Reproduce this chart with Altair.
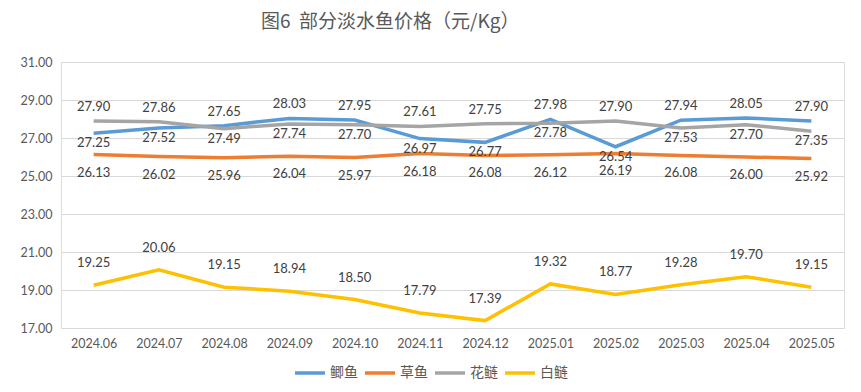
import altair as alt
import pandas as pd

months = ["2024.06", "2024.07", "2024.08", "2024.09", "2024.10", "2024.11",
          "2024.12", "2025.01", "2025.02", "2025.03", "2025.04", "2025.05"]
series_names = ["鲫鱼", "草鱼", "花鲢", "白鲢"]
crucian = [27.25, 27.52, 27.65, 28.03, 27.95, 26.97, 26.77, 27.98, 26.54, 27.94, 28.05, 27.90]
grass = [26.13, 26.02, 25.96, 26.04, 25.97, 26.18, 26.08, 26.12, 26.19, 26.08, 26.00, 25.92]
bighead = [27.90, 27.86, 27.49, 27.74, 27.70, 27.61, 27.75, 27.78, 27.90, 27.53, 27.70, 27.35]
silver = [19.25, 20.06, 19.15, 18.94, 18.50, 17.79, 17.39, 19.32, 18.77, 19.28, 19.70, 19.15]
colors = ["#5B9BD5", "#ED7D31", "#A5A5A5", "#FFC000"]
y_ticks = [17, 19, 21, 23, 25, 27, 29, 31]

rows = []
for name, vals in zip(series_names, [crucian, grass, bighead, silver]):
    for m, v in zip(months, vals):
        rows.append({"month": m, "series": name, "value": v})
df = pd.DataFrame(rows)

LBL = "Lato"
CJK = "Noto Sans CJK SC"

x = alt.X("month:N", sort=months, title=None,
          scale=alt.Scale(type="point", padding=0.5),
          axis=alt.Axis(labelAngle=0, labelFont=LBL, labelFontSize=12.5, labelColor="#595959",
                        ticks=False, domain=False, labelPadding=9, grid=False))
y = alt.Y("value:Q", title=None,
          scale=alt.Scale(domain=[17, 31], nice=False, zero=False),
          axis=alt.Axis(values=y_ticks, format=".2f", labelFont=LBL, labelFontSize=12.5,
                        labelColor="#595959", ticks=False, domain=False, labelPadding=9,
                        labelOverlap=False, gridColor="#D9D9D9", gridWidth=1))
color = alt.Color("series:N", sort=series_names,
                  scale=alt.Scale(domain=series_names, range=colors),
                  legend=alt.Legend(title=None, orient="none", direction="horizontal",
                                    legendX=232, legendY=294,
                                    symbolType="stroke", symbolStrokeWidth=3.5, symbolSize=900,
                                    labelFont=CJK, labelFontSize=14, labelColor="#595959",
                                    columnPadding=0, labelOffset=3))

base = alt.Chart(df)
lines = base.mark_line(strokeWidth=3.5).encode(x=x, y=y, color=color)

txt = dict(fontSize=13, font=LBL, color="#404040")
lab = alt.Text("value:Q", format=".2f")
bg = base.transform_filter(alt.FieldOneOfPredicate(field="series", oneOf=["鲫鱼", "花鲢"])) \
    .transform_joinaggregate(mx="max(value)", groupby=["month"])
upper = bg.transform_filter("datum.value == datum.mx").mark_text(dy=-14, **txt).encode(
    x=x, y=y, text=lab)
lower = bg.transform_filter("datum.value < datum.mx").mark_text(dy=10, **txt).encode(
    x=x, y=y, text=lab)
grass_t = base.transform_filter("datum.series == '草鱼'").mark_text(dy=18, **txt).encode(
    x=x, y=y, text=lab)
silver_t = base.transform_filter("datum.series == '白鲢'").mark_text(dy=-22, **txt).encode(
    x=x, y=y, text=lab)

chart = alt.layer(lines, upper, lower, grass_t, silver_t).properties(
    width=783, height=266,
    title=alt.TitleParams("图6\u00a0\u00a0部分淡水鱼价格（元/Kg）", font=CJK, fontSize=19,
                          fontWeight="normal", color="#595959", anchor="start", dx=241,
                          baseline="bottom", offset=5),
    autosize=alt.AutoSizeParams(type="none"),
    padding={"left": 53, "top": 54, "right": 8, "bottom": 56},
).configure_view(stroke=None).configure(background="white")

chart.save("out.html", embed_options={"renderer": "svg", "actions": False})
